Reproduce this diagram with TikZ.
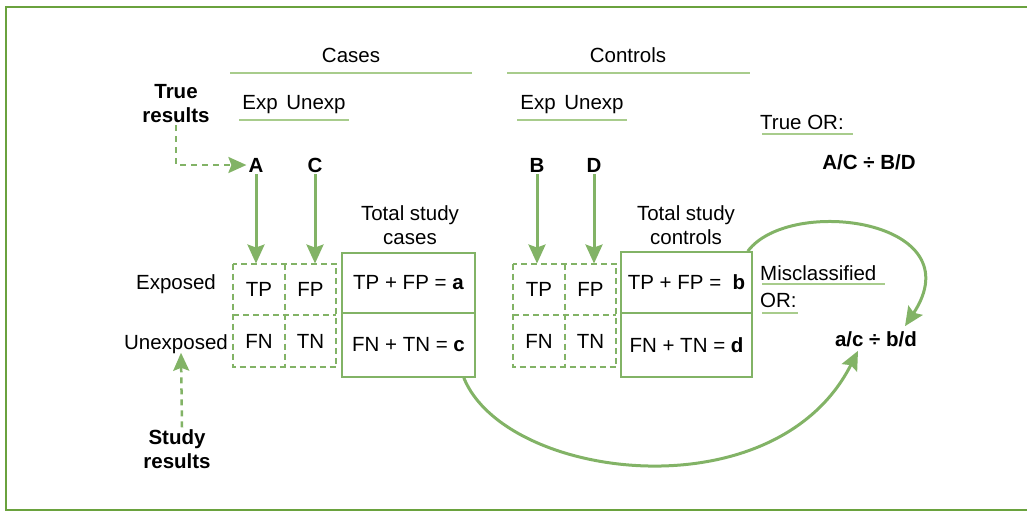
\documentclass[tikz,border=0pt]{standalone}
\usepackage{fontspec}
\setmainfont{Liberation Sans}
\usetikzlibrary{arrows.meta}
\definecolor{framegreen}{RGB}{106,162,62}
\definecolor{linegreen}{RGB}{130,179,102}
\definecolor{rulegreen}{RGB}{168,204,140}

\begin{document}
\begin{tikzpicture}[x=1pt,y=-1pt,
  every node/.style={font=\fontsize{20.5}{24}\selectfont,inner sep=2pt},
  boldlbl/.style={font=\fontsize{20.5}{24}\selectfont\bfseries,align=center},
  cell/.style={minimum width=51.5pt,minimum height=51.5pt,inner sep=0pt},
  totbox/.style={draw=linegreen,line width=1.6pt,minimum width=133pt,inner sep=0pt},
  griddash/.style={draw=linegreen,line width=2pt,dash pattern=on 6pt off 4pt},
  solidarr/.style={draw=linegreen,line width=3pt,-{Stealth[length=19pt,width=17pt,inset=3pt]}},
  dasharr/.style={draw=linegreen,line width=2.5pt,dash pattern=on 6pt off 5pt,-{Stealth[length=18pt,width=16pt,inset=3pt]}},
  ruleline/.style={draw=rulegreen,line width=1.6pt}]
\useasboundingbox (0,0) rectangle (1027,511);

% frame
\draw[framegreen,line width=2pt] (1020,7.5) -- (5.5,7.5) -- (5.5,510) -- (1020,510);
\draw[framegreen,line width=2pt] (1020,7.5) -- (1032,7.5) (1020,510) -- (1032,510);

% headings
\node (cases) at (351,55) {Cases};
\node (controls) at (628,55) {Controls};
\draw[ruleline] (230,73) -- (472,73) (507,73) -- (750,73);
\node (expcase) at (294,105) {Exp\hspace{3pt} Unexp};
\node (expctrl) at (572,105) {Exp\hspace{3pt} Unexp};
\draw[ruleline] (239,120) -- (349,120) (517,120) -- (627,120);

% true and study results
\node[boldlbl] (trueres) at (176,104) {True\\results};
\node[boldlbl] (studyres) at (177,449) {Study\\results};
\node[boldlbl] (A) at (256,165) {A};
\node[boldlbl] (C) at (315,165) {C};
\node[boldlbl] (B) at (537,165) {B};
\node[boldlbl] (D) at (594,165) {D};

\node (exposed) at (176,284) {Exposed};
\node (unexposed) at (176,344) {Unexposed};

% cases grid
\node[cell] (tpa) at (259,289.5) {TP};
\node[cell] (fpa) at (310.5,289.5) {FP};
\node[cell] (fna) at (259,341) {FN};
\node[cell] (tna) at (310.5,341) {TN};
\draw[griddash] (tpa.north west) rectangle (tna.south east)
  (tpa.north east) -- (fna.south east) (tpa.south west) -- (fpa.south east);

% controls grid
\node[cell] (tpb) at (539,289.5) {TP};
\node[cell] (fpb) at (590.5,289.5) {FP};
\node[cell] (fnb) at (539,341) {FN};
\node[cell] (tnb) at (590.5,341) {TN};
\draw[griddash] (tpb.north west) rectangle (tnb.south east)
  (tpb.north east) -- (fnb.south east) (tpb.south west) -- (fpb.south east);

% totals
\node[align=center] (totcase) at (410,225) {Total study\\cases};
\node[totbox,minimum height=60pt] (casetop) at (408.5,283) {TP + FP = \textbf{a}};
\node[totbox,minimum height=64pt] (casebot) at (408.5,345) {FN + TN = \textbf{c}};
\node[align=center] (totctrl) at (686,225) {Total study\\controls};
\node[totbox,minimum width=131pt,minimum height=61pt] (ctrltop) at (686.5,282.5) {TP + FP =\ \ \textbf{b}};
\node[totbox,minimum width=131pt,minimum height=64pt] (ctrlbot) at (686.5,345) {FN + TN = \textbf{d}};

% odds ratios
\node[anchor=west] (trueor) at (758,122) {True OR:};
\draw[ruleline] (762,134) -- (853,134);
\node[boldlbl] (trueratio) at (869,162) {A/C \char"00F7{} B/D};
\node[anchor=west,align=left,font=\fontsize{20.5}{27}\selectfont] (misor) at (758,286.5) {Misclassified\\OR:};
\draw[ruleline] (762,284) -- (885,284) (762,313) -- (798,313);
\node[boldlbl] (misratio) at (876,339) {a/c \char"00F7{} b/d};

% arrows
\draw[dasharr] (trueres.south) |- (A.west);
\draw[dasharr] ([xshift=5pt]studyres.north) -- ([xshift=5pt,yshift=3pt]unexposed.south);
\draw[solidarr] (A.south) -- (A |- tpa.north);
\draw[solidarr] (C.south) -- (C |- fpa.north);
\draw[solidarr] (B.south) -- (B |- tpb.north);
\draw[solidarr] (D.south) -- (D |- fpb.north);
\draw[solidarr] ([xshift=-5pt]ctrltop.north east) .. controls (790,195) and (975,220) .. ([xshift=29pt,yshift=3pt]misratio.north);
\draw[solidarr] ([xshift=-12pt]casebot.south east) .. controls (505,480) and (775,515) .. ([xshift=-18pt,yshift=-2pt]misratio.south);
\end{tikzpicture}
\end{document}
